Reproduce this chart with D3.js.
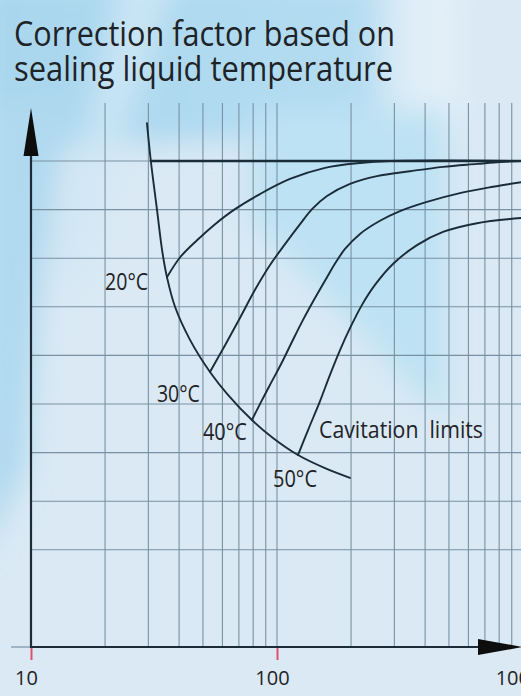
<!DOCTYPE html>
<html>
<head>
<meta charset="utf-8">
<script src="https://cdn.jsdelivr.net/npm/d3@7"></script>
<style>
  html, body { margin: 0; padding: 0; background: #d9eaf5; }
  svg { display: block; }
  text { font-family: "Open Sans", "Noto Sans", sans-serif; fill: #1e2327; }
</style>
</head>
<body>
<script>
// ---------- data (flow rate on log x-axis, correction factor on y-axis) ----------
const titleLines = ["Correction factor based on", "sealing liquid temperature"];
const xTickValues = [10, 100, 1000];
const xGridValues = [20, 30, 40, 50, 60, 70, 80, 90, 100, 200, 300, 400, 500, 600, 700, 800, 900];
const yGridValues = [0.2, 0.3, 0.4, 0.5, 0.6, 0.7, 0.8, 0.9, 1.0];

// cavitation limit curve
const cavX = [29.6, 30.7, 32.5, 34.1, 35.7, 38.5, 44.3, 53.4, 63.2, 79.1, 96.3, 121.7, 156.7, 198];
const cavY = [1.078, 1.0, 0.901, 0.817, 0.761, 0.700, 0.632, 0.566, 0.519, 0.467, 0.430, 0.395, 0.368, 0.348];

// upper limit line (factor 1.0)
const limX = [30.7, 1000];
const limY = [1.0, 1.0];

// temperature curves
const t20X = [35.7, 40.4, 47.3, 56.0, 67.5, 85.3, 112.9, 156.7, 217.5, 288, 1000];
const t20Y = [0.761, 0.802, 0.837, 0.870, 0.901, 0.932, 0.963, 0.986, 0.996, 1.0, 1.0];
const t30X = [53.4, 61.5, 70.7, 81.4, 93.7, 107.8, 124.1, 138.8, 159.7, 198, 255, 347, 473, 650, 806, 1000];
const t30Y = [0.566, 0.621, 0.677, 0.735, 0.786, 0.829, 0.870, 0.901, 0.928, 0.953, 0.969, 0.979, 0.988, 0.994, 0.998, 1.0];
const t40X = [79.1, 86.9, 95.4, 104.8, 115.1, 127.6, 142.7, 159.7, 173.7, 189.0, 217.5, 262.2, 316.2, 407, 554, 755, 1000];
const t40Y = [0.467, 0.508, 0.547, 0.586, 0.628, 0.673, 0.718, 0.761, 0.792, 0.819, 0.850, 0.877, 0.897, 0.916, 0.934, 0.947, 0.957];
const t50X = [121.7, 134.9, 149.6, 164.2, 180.4, 198, 221.6, 250.2, 296, 370.8, 473, 650, 1000];
const t50Y = [0.395, 0.451, 0.506, 0.560, 0.611, 0.656, 0.704, 0.745, 0.788, 0.827, 0.854, 0.872, 0.883];

// labels: text, anchor point (x value, y value of baseline)
const labelText = ["20°C", "30°C", "40°C", "50°C", "Cavitation  limits"];
const labelX = [20.0, 32.5, 50.0, 96.3, 148.2];
const labelY = [0.735, 0.504, 0.426, 0.329, 0.430];
const labelLen = [43, 43, 44, 44, 164];

// ---------- layout ----------
const W = 521, H = 696;
const svg = d3.select("body").append("svg").attr("width", W).attr("height", H);

const x = d3.scaleLog().domain([10, 1000]).range([31, 523]);
const y = d3.scaleLinear().domain([0, 1]).range([647, 161]);

// ---------- background ----------
const defs = svg.append("defs");
defs.append("filter").attr("id", "blur").append("feGaussianBlur").attr("stdDeviation", 14);
const topGrad = defs.append("linearGradient").attr("id", "topGrad").attr("x1", 0).attr("x2", 1).attr("y1", 0).attr("y2", 0);
topGrad.append("stop").attr("offset", "0%").attr("stop-color", "#a8d6ee");
topGrad.append("stop").attr("offset", "80%").attr("stop-color", "#b4dcf1");
topGrad.append("stop").attr("offset", "88%").attr("stop-color", "#dfedf7");
topGrad.append("stop").attr("offset", "100%").attr("stop-color", "#e4f0f8");

svg.append("rect").attr("width", W).attr("height", H).attr("fill", "#dae9f4");
const bg = svg.append("g").attr("filter", "url(#blur)");
bg.append("path").attr("d", "M-20,-20 L460,-20 L460,130 L-20,150 Z").attr("fill", "url(#topGrad)");
bg.append("path").attr("d", "M-20,100 L70,100 L40,300 L25,470 L-20,560 Z").attr("fill", "#b0d9ef");
bg.append("path").attr("d", "M250,110 L447,110 L447,410 L435,410 L300,270 L250,220 Z").attr("fill", "#bde2f4");
bg.append("path").attr("d", "M120,-20 L175,-20 L120,150 L75,300 L55,250 Z").attr("fill", "#cfe7f5").attr("opacity", 0.8);

// ---------- grid ----------
const gridColor = "#7a91a2";
svg.append("g").selectAll("line").data(xGridValues).join("line")
  .attr("x1", d => x(d)).attr("x2", d => x(d))
  .attr("y1", 103).attr("y2", y(0))
  .attr("stroke", gridColor).attr("stroke-width", 1.1);
svg.append("g").selectAll("line").data(yGridValues).join("line")
  .attr("x1", x(10)).attr("x2", W)
  .attr("y1", d => y(d)).attr("y2", d => y(d))
  .attr("stroke", gridColor).attr("stroke-width", 1.1);

// ---------- axes ----------
const axisColor = "#1d2b36";
const xAxis = d3.axisBottom(x).tickValues(xTickValues).tickFormat(d3.format("d")).tickSize(13).tickPadding(11);
const gx = svg.append("g").attr("transform", `translate(0,${y(0)})`).call(xAxis);
gx.select(".domain").remove();
gx.selectAll(".tick line").attr("stroke", "#e0506e").attr("stroke-width", 2);
gx.selectAll(".tick text").attr("font-size", 20).attr("x", -5).style("fill", "#1e2327")
  .attr("font-family", "'Open Sans', sans-serif");

svg.append("line").attr("x1", 11).attr("x2", x(10)).attr("y1", y(0)).attr("y2", y(0))
  .attr("stroke", gridColor).attr("stroke-width", 1.2);
const xArrowStart = x(1000) - 45;
svg.append("line").attr("x1", x(10)).attr("x2", xArrowStart + 2).attr("y1", y(0)).attr("y2", y(0))
  .attr("stroke", axisColor).attr("stroke-width", 2.2);
svg.append("path")
  .attr("d", `M${xArrowStart},${y(0) - 8} L${x(1000)},${y(0)} L${xArrowStart},${y(0) + 8} Z`)
  .attr("fill", "#0d0d0d");
const yArrowBase = y(1) - 5, yTip = y(1) - 53;
svg.append("line").attr("x1", x(10)).attr("x2", x(10)).attr("y1", y(0) + 1).attr("y2", yArrowBase)
  .attr("stroke", axisColor).attr("stroke-width", 2.2);
svg.append("path")
  .attr("d", `M${x(10) - 7.5},${yArrowBase} L${x(10)},${yTip} L${x(10) + 7.5},${yArrowBase} Z`)
  .attr("fill", "#0d0d0d");

// ---------- curves ----------
const line = d3.line().x(d => x(d[0])).y(d => y(d[1])).curve(d3.curveCatmullRom.alpha(0.5));
const curveColor = "#1b2c39";
const series = [
  { xs: limX, ys: limY, w: 2.4 },
  { xs: cavX, ys: cavY, w: 1.9 },
  { xs: t20X, ys: t20Y, w: 1.9 },
  { xs: t30X, ys: t30Y, w: 1.9 },
  { xs: t40X, ys: t40Y, w: 1.9 },
  { xs: t50X, ys: t50Y, w: 1.9 }
];
svg.append("g").selectAll("path").data(series).join("path")
  .attr("d", s => line(s.xs.map((v, k) => [v, s.ys[k]])))
  .attr("fill", "none").attr("stroke", curveColor).attr("stroke-width", s => s.w)
  .attr("stroke-linecap", "round");

// ---------- labels ----------
svg.append("g").selectAll("text").data(labelText).join("text")
  .attr("x", (d, i) => x(labelX[i])).attr("y", (d, i) => y(labelY[i]))
  .attr("font-size", 23)
  .attr("textLength", (d, i) => labelLen[i]).attr("lengthAdjust", "spacingAndGlyphs")
  .style("white-space", "pre")
  .text(d => d);

// ---------- title ----------
svg.append("g").selectAll("text").data(titleLines).join("text")
  .attr("x", 14).attr("y", (d, i) => 46 + i * 35)
  .attr("font-size", 34)
  .attr("textLength", (d, i) => [381, 379][i]).attr("lengthAdjust", "spacingAndGlyphs")
  .text(d => d);
</script>
</body>
</html>
